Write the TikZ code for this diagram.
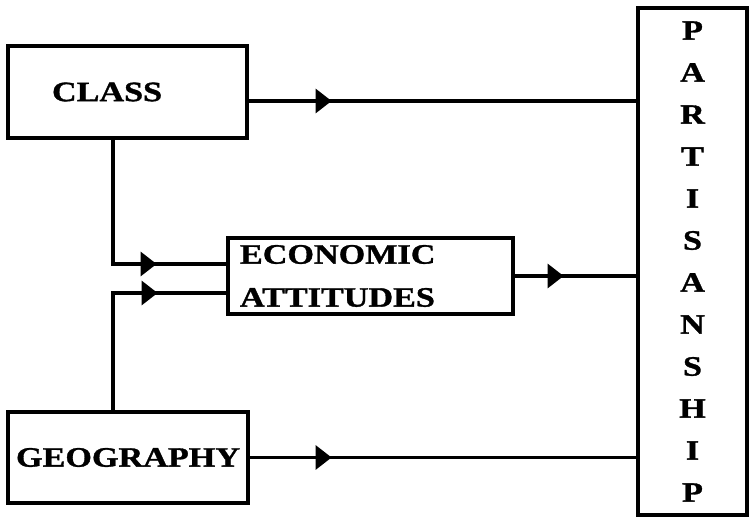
\documentclass[tikz,border=0pt]{standalone}
\usepackage{fontspec}
\setmainfont{Liberation Serif}
\newfontfamily\boxfont[FakeStretch=1.22, BoldFeatures={FakeBold=1.2}]{Liberation Serif}
\usepackage{tikz}
\usetikzlibrary{arrows.meta, decorations.markings}

\begin{document}
\begin{tikzpicture}[x=1pt, y=-1pt,
    box/.style={draw, line width=3.2pt, rectangle, inner sep=2pt, font=\boxfont\bfseries\fontsize{28}{43}\selectfont},
    link/.style={line width=3.2pt},
    midtip/.style={postaction={decorate}, decoration={markings, mark=at position #1 with {\arrow{Triangle[length=16pt, width=24pt]}}}}]
  \useasboundingbox (0,0) rectangle (750,518);
  % Boxes
  \node[box, minimum width=239pt, minimum height=92pt, text width=151pt, inner xsep=44pt, align=left] (class) at (127.5,92) {CLASS};
  \node[box, minimum width=240pt, minimum height=91pt, align=center] (geo) at (128,457.5) {GEOGRAPHY};
  \node[box, minimum width=285pt, minimum height=76pt, text width=261pt, inner xsep=12pt, align=left] (econ) at (370.5,276) {ECONOMIC\\ATTITUDES};
  \node[box, minimum width=109pt, minimum height=507pt, text width=100pt, inner xsep=4.5pt, align=center,
        font=\boxfont\bfseries\fontsize{28}{42}\selectfont] (part) at (692.5,261.5)
        {P\\A\\R\\T\\I\\S\\A\\N\\S\\H\\I\\P};
  % Links into partisanship
  \draw[link, midtip=83pt] ([yshift=-9pt]class.east) -- ([yshift=-9pt]class.east -| part.west);
  \draw[link, midtip=49pt] (econ.east) -- (econ.east -| part.west);
  \draw[link, midtip=82pt] (geo.east) -- (geo.east -| part.west);
  % Links into economic attitudes
  \draw[link, midtip=168pt] ([xshift=-14.5pt]class.south) |- ([yshift=12pt]econ.west);
  \draw[link, midtip=162pt] ([xshift=-15pt]geo.north) |- ([yshift=-17pt]econ.west);
\end{tikzpicture}
\end{document}
